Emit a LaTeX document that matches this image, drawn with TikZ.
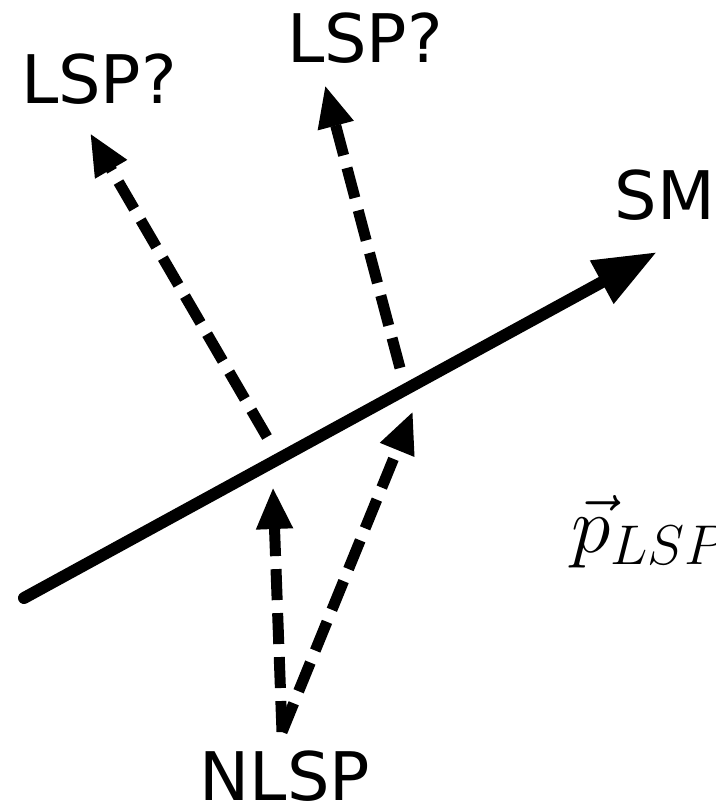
\RequirePackage{fix-cm}
\documentclass[tikz,border=0pt]{standalone}
\usepackage{fontspec}
\usetikzlibrary{arrows.meta}
\newfontfamily\labelfont{DejaVu Sans}

\begin{document}
\begin{tikzpicture}[x=1pt,y=-1pt,
    smline/.style={line width=12pt,line cap=round,-{Triangle[length=63pt,width=46pt]}},
    decay/.style={line width=11pt,dash pattern=on 31pt off 13pt,-{Triangle[length=42pt,width=34pt]}},
    lab/.style={font=\labelfont\fontsize{67}{80}\selectfont,anchor=base,inner sep=0pt}]
    \useasboundingbox (0,0) rectangle (715,805);
    \node[lab] (lspL) at (99,104) {LSP?};
    \node[lab] (lspR) at (365,63) {LSP?};
    \node[lab] (sm) at (665,219) {SM};
    \node[lab] (nlsp) at (285,800) {NLSP};
    \node[anchor=base west,inner sep=0pt,font=\fontsize{80}{96}\selectfont] (plsp) at (571,552) {$\vec p_{LSP}$};
    % end points
    \coordinate (smTail) at (24,598);
    \coordinate (smTip) at (657,252);
    \coordinate (nlspTop) at (282,732);
    \coordinate (hitL) at (273,487);
    \coordinate (hitR) at (413,411);
    \coordinate (outL) at (267,437);
    \coordinate (outR) at (400,368);
    \coordinate (tipL) at (90,133);
    \coordinate (tipR) at (325,85);
    \draw[smline] (smTail) -- (smTip);
    \draw[decay] (nlspTop) -- (hitL);
    \draw[decay] (nlspTop) -- (hitR);
    \draw[decay] (outL) -- (tipL);
    \draw[decay] (outR) -- (tipR);
  \end{tikzpicture}
\end{document}
